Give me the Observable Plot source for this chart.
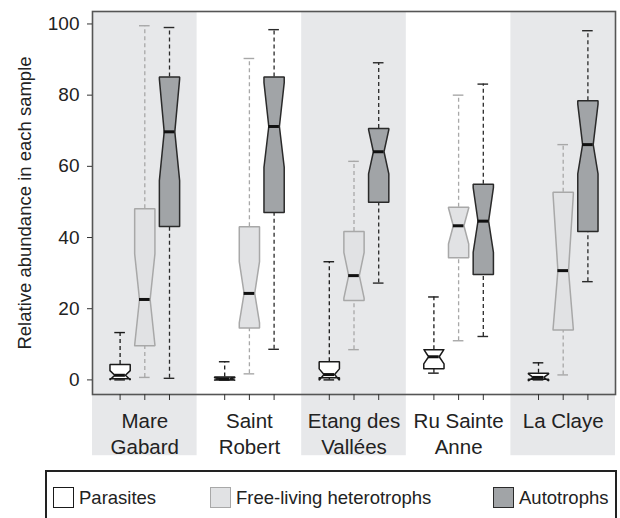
<!DOCTYPE html>
<html><head><meta charset="utf-8">
<script src="https://cdn.jsdelivr.net/npm/d3@7"></script>
<script src="https://cdn.jsdelivr.net/npm/@observablehq/plot@0.6"></script>
<style>
body{margin:0;background:#fff;font-family:"Liberation Sans",Arial,sans-serif;}
#wrap{position:relative;width:620px;height:518px;overflow:hidden;}
#legend{position:absolute;left:45px;top:470px;width:572px;height:70px;border:2px solid #222;box-sizing:border-box;background:#fff;}
.item{position:absolute;top:15px;display:flex;align-items:center;font-size:18.5px;color:#222;line-height:21px;}
.sw{width:21px;height:21px;border:1.5px solid;box-sizing:border-box;margin-right:5px;}
</style></head><body><div id="wrap"><div id="chart"></div><div id="legend"></div></div>
<script>
// ---- data ----
const sites = ["Mare\nGabard", "Saint\nRobert", "Etang des\nVallées", "Ru Sainte\nAnne", "La Claye"];
const types = ["Parasites", "Free-living heterotrophs", "Autotrophs"];
// per site: [whiskerLow, q1, notchLow, median, notchHigh, q3, whiskerHigh]
const parasites = [
  [0.0, 0.3, 0.0, 1.3, 2.6, 4.3, 13.3],
  [0.0, 0.0, -0.1, 0.3, 0.6, 0.8, 5.1],
  [0.0, 0.6, -0.1, 1.5, 3.1, 5.1, 33.2],
  [1.9, 3.1, 4.5, 6.5, 8.6, 8.5, 23.3],
  [0.0, 0.2, -0.3, 0.7, 1.7, 1.9, 4.8]
];
const freeLiving = [
  [0.7, 9.6, 9.8, 22.6, 35.4, 48.1, 99.5],
  [1.7, 14.6, 16.0, 24.3, 33.2, 43.0, 90.3],
  [8.5, 22.3, 23.0, 29.3, 35.8, 41.7, 61.4],
  [11.0, 34.3, 38.2, 43.3, 48.3, 48.5, 80.0],
  [1.4, 14.0, 14.3, 30.7, 52.0, 52.7, 66.1]
];
const autotrophs = [
  [0.45, 43.1, 56.0, 69.7, 84.5, 85.1, 99.0],
  [8.6, 47.0, 59.7, 71.2, 83.5, 85.1, 98.4],
  [27.2, 49.9, 57.9, 64.1, 70.3, 70.6, 89.1],
  [12.2, 29.6, 35.8, 44.6, 54.0, 55.0, 83.1],
  [27.6, 41.7, 57.9, 66.1, 77.5, 78.4, 98.1]
];
const yTicks = [0, 20, 40, 60, 80, 100];
const yLabel = "Relative abundance in each sample";

// ---- layout / style constants ----
const STEP = 4.235;      // distance between site groups (in box-spacing units)
const HALF = 0.41;       // half box width
const NOTCH = 0.215;     // half notch width
const CAP = 0.215;       // half whisker-cap width
const BAND_LOW = -21.3;  // shaded bands extend below the axis
const fills = ["#ffffff", "#e1e2e4", "#a1a4a7"];
const strokes = ["#1a1a1a", "#a8a8a8", "#2a2a2a"];
const whiskerStrokes = ["#1a1a1a", "#a8a8a8", "#2a2a2a"];

const rows = [];
[parasites, freeLiving, autotrophs].forEach((arr, t) => arr.forEach((s, i) => rows.push({
  id: t * 10 + i, site: i, type: t, x: i * STEP + (t - 1),
  wLo: s[0], q1: s[1], nLo: s[2], med: s[3], nHi: s[4], q3: s[5], wHi: s[6]
})));

const poly = [];
rows.forEach(r => {
  const pts = [
    [-HALF, r.q1], [-HALF, r.nLo], [-NOTCH, r.med], [-HALF, r.nHi], [-HALF, r.q3],
    [HALF, r.q3], [HALF, r.nHi], [NOTCH, r.med], [HALF, r.nLo], [HALF, r.q1], [-HALF, r.q1]
  ];
  pts.forEach(([dx, y]) => poly.push({id: r.id, type: r.type, x: r.x + dx, y}));
});

const bands = [0, 2, 4].map(i => ({x1: i * STEP - STEP / 2, x2: i * STEP + STEP / 2}));
const xDomain = [-STEP / 2, (sites.length - 1) * STEP + STEP / 2];
const yDomain = [-4.1, 103.5];

const marks = [
  Plot.rect(bands, {x1: "x1", x2: "x2", y1: BAND_LOW, y2: yDomain[1], fill: "#e7e8ea"}),
  Plot.frame({stroke: "#555", strokeWidth: 1.6})
];
types.forEach((_, t) => {
  const rs = rows.filter(r => r.type === t);
  marks.push(
    Plot.ruleX(rs, {x: "x", y1: "q3", y2: "wHi", stroke: whiskerStrokes[t], strokeWidth: 1.3, strokeDasharray: "4,3"}),
    Plot.ruleX(rs, {x: "x", y1: "wLo", y2: "q1", stroke: whiskerStrokes[t], strokeWidth: 1.3, strokeDasharray: "4,3"}),
    Plot.ruleY(rs, {y: "wHi", x1: d => d.x - CAP, x2: d => d.x + CAP, stroke: whiskerStrokes[t], strokeWidth: 1.4}),
    Plot.ruleY(rs, {y: "wLo", x1: d => d.x - CAP, x2: d => d.x + CAP, stroke: whiskerStrokes[t], strokeWidth: 1.4}),
    Plot.line(poly.filter(p => p.type === t), {x: "x", y: "y", z: "id", fill: fills[t], stroke: strokes[t], strokeWidth: 1.5, strokeLinejoin: "miter"}),
    Plot.ruleY(rs, {y: "med", x1: d => d.x - NOTCH, x2: d => d.x + NOTCH, stroke: "#111", strokeWidth: 3})
  );
});
marks.push(
  Plot.axisY(yTicks, {tickSize: 5, tickPadding: 8, fontSize: 19, stroke: "#333", fill: "#222", label: null}),
  Plot.axisX(rows.map(r => r.x), {tickSize: 6, tickFormat: () => "", stroke: "#333", label: null}),
  Plot.text(sites, {x: (d, i) => i * STEP, text: d => d, frameAnchor: "bottom", lineAnchor: "top", dy: 14.5, fontSize: 20.5, lineHeight: 1.27, fill: "#222"}),
  Plot.text([yLabel], {text: d => d, frameAnchor: "left", textAnchor: "middle", rotate: -90, dx: -67.5, fontSize: 18.5, fill: "#222"})
);

const chart = Plot.plot({
  width: 620, height: 462,
  marginTop: 11, marginBottom: 68, marginLeft: 92, marginRight: 5,
  x: {domain: xDomain, label: null},
  y: {domain: yDomain, label: null},
  style: {fontFamily: '"Liberation Sans", Arial, sans-serif', fontSize: "19px", color: "#222", background: "transparent"},
  marks
});
document.getElementById("chart").appendChild(chart);

// legend
const legendLeft = [6, 163, 446];
const legend = document.getElementById("legend");
types.forEach((name, t) => {
  const it = document.createElement("div");
  it.className = "item";
  it.style.left = legendLeft[t] + "px";
  const sw = document.createElement("div");
  sw.className = "sw";
  sw.style.background = fills[t];
  sw.style.borderColor = strokes[t];
  const tx = document.createElement("span");
  tx.textContent = name;
  it.appendChild(sw); it.appendChild(tx);
  legend.appendChild(it);
});
</script></body></html>
